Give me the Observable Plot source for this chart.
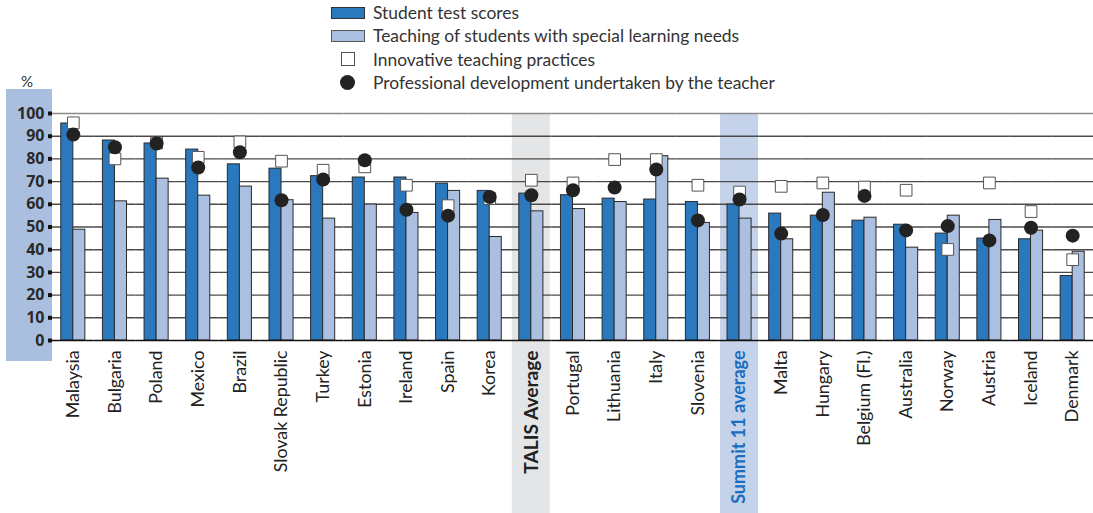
<!DOCTYPE html>
<html><head><meta charset="utf-8">
<script src="https://cdn.jsdelivr.net/npm/d3@7"></script>
<script src="https://cdn.jsdelivr.net/npm/@observablehq/plot@0.6"></script>
<style>
body{margin:0;background:#fff;font-family:Lato,"Open Sans",sans-serif;}
#wrap{position:relative;width:1093px;height:513px;overflow:hidden;}
#panel{position:absolute;left:6px;top:89px;width:46px;height:272px;background:#aabfe0;}
#pct{position:absolute;left:21px;top:72px;font-size:15px;color:#333;}
#legend{position:absolute;left:322px;top:1px;color:#333;font-size:17.4px;}
.row{height:23.3px;display:flex;align-items:center;}
.sw{width:51px;display:flex;justify-content:center;align-items:center;}
.txt{white-space:nowrap;}
#chart{position:absolute;left:0;top:0;}
</style></head>
<body>
<div id="wrap">
<div id="panel"></div>
<div id="pct">%</div>
<div id="chart"></div>
<div id="legend"></div>
</div>
<script>
const countries = ["Malaysia","Bulgaria","Poland","Mexico","Brazil","Slovak Republic","Turkey","Estonia","Ireland","Spain","Korea","TALIS Average","Portugal","Lithuania","Italy","Slovenia","Summit 11 average","Malta","Hungary","Belgium (Fl.)","Australia","Norway","Austria","Iceland","Denmark"];
const studentScores = [95.6,88.1,86.8,84.1,77.6,75.7,72.4,71.8,71.8,69.1,65.9,64.7,64.0,62.5,62.1,61.0,59.9,55.9,55.0,52.8,51.0,47.1,44.9,44.6,28.4];
const specialNeeds = [48.8,61.3,71.3,63.8,67.8,61.8,53.7,59.9,56.2,65.9,45.6,56.9,57.9,61.0,81.2,51.8,53.7,44.6,65.1,54.1,40.9,55.0,53.1,48.4,39.1];
const innovative = [95.9,80.0,87.0,80.7,87.5,79.0,75.0,76.5,68.4,59.4,62.5,70.6,69.4,79.7,79.7,68.4,65.4,67.9,69.4,67.6,66.2,40.1,69.4,56.8,35.6];
const profDev = [90.7,85.1,86.8,76.2,82.9,61.8,70.9,79.4,57.6,55.0,63.2,64.0,66.2,67.4,75.3,52.9,62.1,47.1,55.3,63.7,48.5,50.4,44.1,49.7,46.2];
const seriesNames = ["Student test scores","Teaching of students with special learning needs","Innovative teaching practices","Professional development undertaken by the teacher"];
const yTicks = [0,10,20,30,40,50,60,70,80,90,100];
const talisLabel = "TALIS Average";
const summitLabel = "Summit 11 average";

const darkBlue = "#2a78be", lightBlue = "#abbfe1";

const rows = countries.flatMap((c,i)=>[
  {country:c, series:seriesNames[0], value:studentScores[i]},
  {country:c, series:seriesNames[1], value:specialNeeds[i]}
]);
const pts = countries.map((c,i)=>({country:c, innov:innovative[i], prof:profDev[i]}));
const regular = countries.filter(c=>c!==talisLabel && c!==summitLabel);

const chart = Plot.plot({
  width:1093, height:513,
  marginTop:113, marginBottom:173, marginLeft:52, marginRight:0,
  style:{background:"transparent", fontFamily:"Lato, 'Open Sans', sans-serif", color:"#222"},
  fx:{domain:countries, padding:0, round:false, axis:null, label:null},
  x:{domain:seriesNames.slice(0,2), paddingInner:0, paddingOuter:0.73, round:false, axis:null},
  y:{domain:[0,100], axis:null},
  color:{domain:seriesNames.slice(0,2), range:[darkBlue, lightBlue]},
  marks:[
    Plot.barY([talisLabel], {fx:d=>d, y1:-80, y2:100, fill:"#e4e5e7", insetLeft:1.8, insetRight:1.8}),
    Plot.barY([summitLabel], {fx:d=>d, y1:-80, y2:100, fill:"#c5d3ea", insetLeft:1.8, insetRight:1.8}),
    Plot.gridY({ticks:yTicks.filter(t=>t>0 && t<100), stroke:"#4a4a4a", strokeOpacity:1, strokeWidth:1.4}),
    Plot.gridY({ticks:[100], stroke:"#8a8a8a", strokeOpacity:1, strokeWidth:1.6}),
    Plot.barY(rows, {fx:"country", x:"series", y:"value", fill:"series", stroke:"#2a2a2a", strokeWidth:1}),
    Plot.ruleY([0], {stroke:"#111", strokeWidth:1.6}),
    Plot.dot(pts, {fx:"country", y:"innov", symbol:"square", r:6.6, fill:"white", stroke:"#555", strokeWidth:1}),
    Plot.dot(pts, {fx:"country", y:"prof", r:7, fill:"#222"}),
    Plot.axisY({ticks:yTicks, tickSize:4, tickPadding:4, strokeWidth:4, stroke:"#111", fontWeight:"bold", fontSize:16, fontFamily:"'Open Sans', sans-serif", fill:"#2a2a2a", tickFormat:d=>String(d)}),
    Plot.axisFx({ticks:regular, anchor:"bottom", tickRotate:-90, tickSize:0, tickPadding:10, fontSize:17.8, fill:"#222", label:null}),
    Plot.axisFx({ticks:[talisLabel], anchor:"bottom", tickRotate:-90, tickSize:0, tickPadding:10, fontSize:19.2, fontWeight:"bold", fill:"#222", label:null}),
    Plot.axisFx({ticks:[summitLabel], anchor:"bottom", tickRotate:-90, tickSize:0, tickPadding:10, fontSize:18, fontWeight:"bold", fill:"#1a6ec0", label:null})
  ]
});
document.getElementById("chart").appendChild(chart);

// legend
const leg = d3.select("#legend");
const swatches = [
  s=>s.append("div").style("width","34px").style("height","12px").style("background",darkBlue).style("border","1px solid #333").style("box-sizing","border-box"),
  s=>s.append("div").style("width","34px").style("height","12px").style("background",lightBlue).style("border","1px solid #555").style("box-sizing","border-box"),
  s=>s.append("div").style("width","14px").style("height","14px").style("background","#fff").style("border","1px solid #555").style("box-sizing","border-box"),
  s=>s.append("div").style("width","15px").style("height","15px").style("background","#222").style("border-radius","50%")
];
seriesNames.forEach((name,i)=>{
  const r = leg.append("div").attr("class","row");
  swatches[i](r.append("div").attr("class","sw"));
  r.append("div").attr("class","txt").text(name);
});
</script>
</body></html>
